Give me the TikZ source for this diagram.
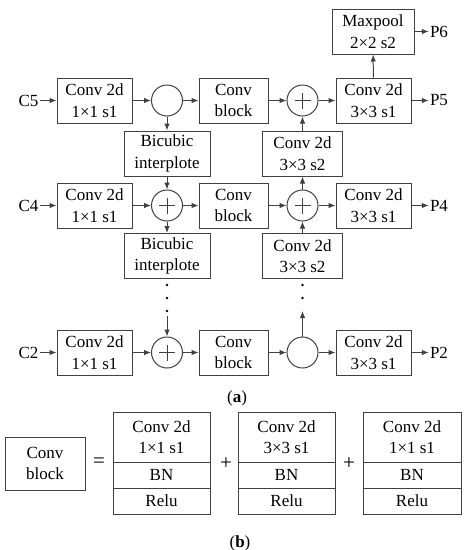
\documentclass[tikz,border=0pt]{standalone}
\usepackage{fontspec}
\setmainfont{Liberation Serif}
\usetikzlibrary{arrows.meta}
\definecolor{linec}{gray}{0.25}
\newcommand{\fs}{\fontsize{17}{21.5}\selectfont}
\tikzset{
  box/.style={draw=linec, line width=1pt, minimum height=45pt, inner sep=0pt, align=center, font=\fs},
  circ/.style={circle, draw=linec, line width=1pt, minimum size=31pt, inner sep=0pt},
  pluscirc/.style={circ, path picture={
      \draw[linec, line width=0.9pt] ([xshift=-8pt]path picture bounding box.center) -- ([xshift=8pt]path picture bounding box.center);
      \draw[linec, line width=0.9pt] ([yshift=-8pt]path picture bounding box.center) -- ([yshift=8pt]path picture bounding box.center);}},
  lbl/.style={font=\fs, inner sep=1pt},
  oplbl/.style={font=\fontsize{21}{24}\selectfont, inner sep=1pt},
  arr/.style={-{Latex[length=7pt,width=5.5pt]}, line width=1pt, draw=linec},
  dotc/.style={circle, fill=black, inner sep=0pt, minimum size=2.8pt},
  cell/.style={draw=linec, line width=1pt, inner sep=0pt, align=center, font=\fs},
}
\begin{document}
\begin{tikzpicture}[x=1pt,y=-1pt]
\useasboundingbox (0,0) rectangle (469,550);
% ---------- row 1 (C5)
\node[lbl] (c5) at (28.5,100.5) {C5};
\node[box, minimum width=75pt] (a1) at (94.5,100.5) {Conv 2d\\1×1 s1};
\node[circ] (o1) at (167,100.5) {};
\node[box, minimum width=69pt] (b1) at (233.5,100.5) {Conv\\block};
\node[pluscirc] (q1) at (302.5,100.5) {};
\node[box, minimum width=75pt] (d1) at (373.5,100.5) {Conv 2d\\3×3 s1};
\node[lbl] (p5) at (439,100.5) {P5};
\node[box, minimum width=82pt] (mp) at (373,31.5) {Maxpool\\2×2 s2};
\node[lbl] (p6) at (439,31.5) {P6};
\node[box, minimum width=86pt] (bi1) at (167,153.5) {Bicubic\\interplote};
\node[box, minimum width=80pt] (s1) at (302.5,153.5) {Conv 2d\\3×3 s2};
% ---------- row 2 (C4)
\node[lbl] (c4) at (28.5,205.5) {C4};
\node[box, minimum width=75pt] (a2) at (94.5,205.5) {Conv 2d\\1×1 s1};
\node[pluscirc] (o2) at (167,205.5) {};
\node[box, minimum width=69pt] (b2) at (233.5,205.5) {Conv\\block};
\node[pluscirc] (q2) at (302.5,205.5) {};
\node[box, minimum width=75pt] (d2) at (373.5,205.5) {Conv 2d\\3×3 s1};
\node[lbl] (p4) at (439,205.5) {P4};
\node[box, minimum width=86pt] (bi2) at (167,256) {Bicubic\\interplote};
\node[box, minimum width=80pt] (s2) at (302.5,256) {Conv 2d\\3×3 s2};
% ---------- row 3 (C2)
\node[lbl] (c2) at (28.5,352.5) {C2};
\node[box, minimum width=75pt] (a3) at (94.5,352.5) {Conv 2d\\1×1 s1};
\node[pluscirc] (o3) at (167,352.5) {};
\node[box, minimum width=69pt] (b3) at (233.5,352.5) {Conv\\block};
\node[circ] (q3) at (302.5,352.5) {};
\node[box, minimum width=75pt] (d3) at (373.5,352.5) {Conv 2d\\3×3 s1};
\node[lbl] (p2) at (439,352.5) {P2};
% dots
\node[dotc] (ld1) at (167,285) {};
\node[dotc] (ld2) at (167,298) {};
\node[dotc] (ld3) at (167,311) {};
\node[dotc] (rd1) at (302.5,285) {};
\node[dotc] (rd2) at (302.5,298) {};
\coordinate (lstart) at (167,316);
\coordinate (rend) at (302.5,311);
% ---------- arrows row 1
\draw[arr] (c5) -- (a1);
\draw[arr] (a1) -- (o1);
\draw[arr] (o1) -- (b1);
\draw[arr] (b1) -- (q1);
\draw[arr] (q1) -- (d1);
\draw[arr] (d1) -- (p5);
\draw[arr] (d1) -- (mp);
\draw[arr] (mp) -- (p6);
\draw[arr] (o1) -- (bi1);
\draw[arr] (bi1) -- (o2);
\draw[arr] (s1) -- (q1);
% ---------- arrows row 2
\draw[arr] (c4) -- (a2);
\draw[arr] (a2) -- (o2);
\draw[arr] (o2) -- (b2);
\draw[arr] (b2) -- (q2);
\draw[arr] (q2) -- (d2);
\draw[arr] (d2) -- (p4);
\draw[arr] (o2) -- (bi2);
\draw[arr] (q2) -- (s1);
\draw[arr] (s2) -- (q2);
% ---------- arrows row 3
\draw[arr] (c2) -- (a3);
\draw[arr] (a3) -- (o3);
\draw[arr] (o3) -- (b3);
\draw[arr] (b3) -- (q3);
\draw[arr] (q3) -- (d3);
\draw[arr] (d3) -- (p2);
\draw[arr] (lstart) -- (o3);
\draw[arr] (q3) -- (rend);
% ---------- caption (a)
\node[lbl] (capa) at (237,398) {(\textbf{a})};
% ---------- part (b)
\node[box, minimum width=80pt, minimum height=53pt] (cbl) at (45,463.5) {Conv\\block};
\node[oplbl] (eq) at (99,463) {=};
\node[cell, minimum width=97pt, minimum height=50pt] (t1) at (161.5,437) {Conv 2d\\1×1 s1};
\node[cell, minimum width=97pt, minimum height=26pt] (n1) at (161.5,475) {BN};
\node[cell, minimum width=97pt, minimum height=26pt] (r1) at (161.5,501) {Relu};
\node[oplbl] (pl1) at (226,464) {+};
\node[cell, minimum width=97pt, minimum height=50pt] (t2) at (286.5,437) {Conv 2d\\3×3 s1};
\node[cell, minimum width=97pt, minimum height=26pt] (n2) at (286.5,475) {BN};
\node[cell, minimum width=97pt, minimum height=26pt] (r2) at (286.5,501) {Relu};
\node[oplbl] (pl2) at (349,464) {+};
\node[cell, minimum width=98pt, minimum height=50pt] (t3) at (412,437) {Conv 2d\\1×1 s1};
\node[cell, minimum width=98pt, minimum height=26pt] (n3) at (412,475) {BN};
\node[cell, minimum width=98pt, minimum height=26pt] (r3) at (412,501) {Relu};
\node[lbl] (capb) at (240,543) {(\textbf{b})};
\end{tikzpicture}
\end{document}
